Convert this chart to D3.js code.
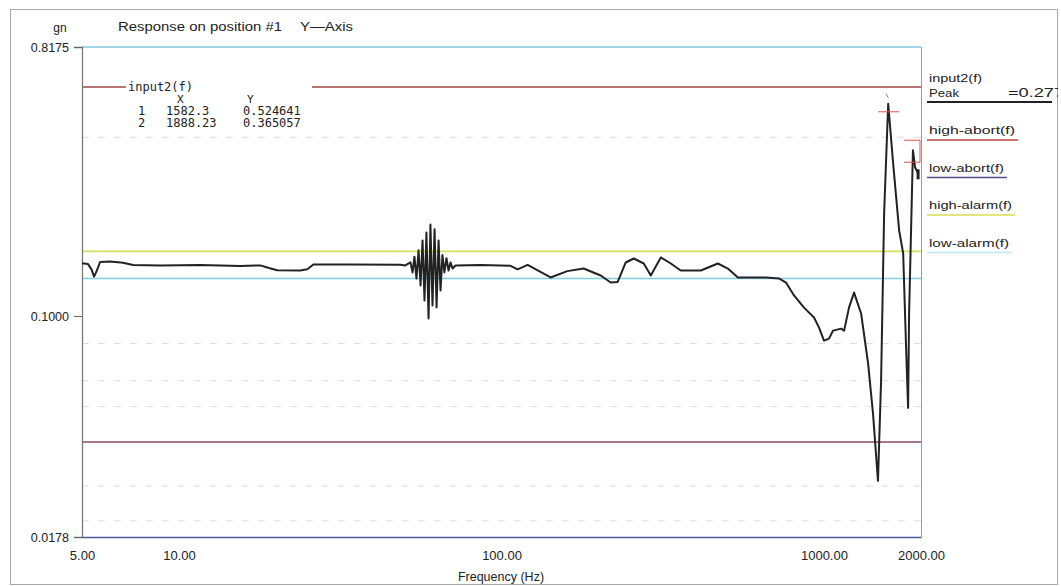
<!DOCTYPE html>
<html><head><meta charset="utf-8">
<script src="https://cdn.jsdelivr.net/npm/d3@7"></script>
<style>
html,body{margin:0;padding:0;background:#fff;}
svg{display:block;font-family:Arial,"Liberation Sans",sans-serif;}
</style></head>
<body><svg id="c" width="1061" height="586"></svg>
<script>
// ---- data ----
const freqs = [5.0,5.22,5.35,5.45,5.55,5.69,6.11,6.70,7.20,8.73,11.62,15.47,17.86,19.0,20.16,23.77,24.99,26.09,33.99,48.6,
  50.3,52.2,53.0,53.7,54.5,55.3,56.1,56.9,57.7,58.5,59.4,60.2,61.1,62.0,62.9,63.8,64.7,65.6,66.5,67.5,68.5,69.5,70.5,72.0,
  86.1,99.3,106.7,112.2,120.5,142.0,160,179.8,203.1,218.1,229.3,242.8,257.1,276.2,290.4,311.9,335.0,359.6,415.3,468.8,503.6,540.9,
  661.0,725.5,762.7,807.6,867.4,931.7,965.6,1000.4,1037,1067,1130,1155,1196,1240,1304,1371,1420,1471,1504,1537,1582.3,1639,1711,1761,1798,1824,1837,1888.23,1917,1959];
const values = [0.1510,0.1500,0.1440,0.1360,0.1420,0.1525,0.1530,0.1515,0.1490,0.1485,0.1490,0.1478,0.1485,0.1455,0.1430,0.1427,0.1440,0.1495,0.1495,0.1492,
  0.1484,0.1520,0.1405,0.1590,0.1340,0.1670,0.1270,0.1805,0.1128,0.1920,0.0980,0.2045,0.1085,0.1970,0.1070,0.1805,0.1220,0.1610,0.1405,0.1570,0.1427,0.1520,0.1449,0.1484,
  0.1490,0.1484,0.1480,0.1440,0.1490,0.1351,0.1420,0.1449,0.1372,0.1299,0.1305,0.1519,0.1567,0.1507,0.1372,0.1580,0.1507,0.1427,0.1427,0.1507,0.1449,0.1351,
  0.1351,0.1341,0.1299,0.1174,0.1068,0.0988,0.0913,0.0825,0.0838,0.0892,0.0906,0.0892,0.1068,0.1201,0.1020,0.0689,0.0466,0.0276,0.0603,0.2230,0.5246,0.3298,0.1952,0.1631,0.0781,0.0488,0.1020,0.3651,0.3196,0.3048];

const refNames  = ["high-abort(f)","low-abort(f)","high-alarm(f)","low-alarm(f)"];
const refValues = [0.598, 0.0374, 0.1657, 0.1340];
const refColors = ["#a04646","#8a4a5a","#d6e05a","#7fd0e0"];
const legendUnderline = ["#c04040","#5a4a8a","#d8dc50","#bfe8ee"];

const faintValues = [0.404, 0.0807, 0.0603, 0.0493, 0.0265, 0.0202];

const yTicks = [0.0178, 0.1, 0.8175];
const xTicks = [5, 10, 100, 1000, 2000];

const cursorX = [1582.3, 1888.23];
const cursorY = [0.524641, 0.365057];

// ---- scales ----
const svg = d3.select("#c");
const x = d3.scaleLog().domain([5, 2000]).range([82, 921]);
const y = d3.scaleLog().domain([0.0178, 0.8175]).range([537, 47]);

// outer frame
svg.append("rect").attr("x",10.5).attr("y",9.5).attr("width",1047).attr("height",575)
  .attr("fill","none").attr("stroke","#a8a8a8").attr("stroke-width",1);

// faint dashed lines
svg.append("g").selectAll("line").data(faintValues).join("line")
  .attr("x1",x(5)).attr("x2",x(2000)).attr("y1",d=>y(d)).attr("y2",d=>y(d))
  .attr("stroke","#dedede").attr("stroke-width",1).attr("stroke-dasharray","7,9");

// top line
svg.append("line").attr("x1",x(5)).attr("x2",x(2000)).attr("y1",y(0.8175)).attr("y2",y(0.8175))
  .attr("stroke","#86c8e2").attr("stroke-width",1.3);
// right border
svg.append("line").attr("x1",x(2000)+0.5).attr("x2",x(2000)+0.5).attr("y1",y(0.8175)).attr("y2",y(0.0178))
  .attr("stroke","#9a9a9a").attr("stroke-width",1);

// reference lines
svg.append("g").selectAll("line").data(refValues).join("line")
  .attr("x1",x(5)).attr("x2",x(2000)).attr("y1",d=>y(d)).attr("y2",d=>y(d))
  .attr("stroke",(d,i)=>refColors[i]).attr("stroke-width",1.6);

// axes
const yAxis = d3.axisLeft(y).tickValues(yTicks).tickFormat(d3.format(".4f")).tickSize(8).tickPadding(5);
const gy = svg.append("g").attr("transform",`translate(${x(5)},0)`).call(yAxis);
gy.select(".domain").attr("stroke","#7a7a7a").attr("stroke-width",1.3);
gy.selectAll(".tick line").attr("stroke","#666");
gy.selectAll("text").attr("font-size",12.5).attr("fill","#222").attr("font-family","Arial, 'Liberation Sans', sans-serif");

const xAxis = d3.axisBottom(x).tickValues(xTicks).tickFormat(d3.format(".2f")).tickSize(0).tickPadding(14);
const gx = svg.append("g").attr("transform",`translate(0,${y(0.0178)})`).call(xAxis);
gx.select(".domain").attr("stroke","#4a5a9a").attr("stroke-width",1.5);
gx.selectAll("text").attr("font-size",13).attr("fill","#222").attr("font-family","Arial, 'Liberation Sans', sans-serif");

// curve
const pts = freqs.map((f,i)=>[f, values[i]]);
svg.append("path").datum(pts)
  .attr("fill","none").attr("stroke","#222").attr("stroke-width",2).attr("stroke-linejoin","round")
  .attr("d", d3.line().x(d=>x(d[0])).y(d=>y(d[1])));
// end tick segment
svg.append("line").attr("x1",x(1959)).attr("x2",x(1959)).attr("y1",y(0.3048)-4).attr("y2",y(0.3048)+6)
  .attr("stroke","#222").attr("stroke-width",3);

// cursor markers
svg.append("line").attr("x1",x(cursorX[0])-10).attr("x2",x(cursorX[0])+11).attr("y1",y(cursorY[0])+8).attr("y2",y(cursorY[0])+8)
  .attr("stroke","#e05050").attr("stroke-width",1);
svg.append("line").attr("x1",x(cursorX[0])-2).attr("x2",x(cursorX[0])).attr("y1",y(cursorY[0])-10).attr("y2",y(cursorY[0])-6)
  .attr("stroke","#888").attr("stroke-width",1);
svg.append("path")
  .attr("d",`M${x(cursorX[1])-9},${y(cursorY[1])-10}H${x(2000)-1}V${y(cursorY[1])+12}H${x(cursorX[1])-9}`)
  .attr("fill","none").attr("stroke","#e05050").attr("stroke-width",1);

// cursor readout box (covers the abort line)
const box = svg.append("g");
box.append("rect").attr("x",126).attr("y",79).attr("width",186).attr("height",54).attr("fill","#fff");
const mono = "'DejaVu Sans Mono','Liberation Mono',monospace";
box.append("text").attr("x",128).attr("y",91).attr("font-family",mono).attr("font-size",12).attr("fill","#222").text("input2(f)");
box.append("text").attr("x",177).attr("y",103).attr("font-family",mono).attr("font-size",11).attr("fill","#222").text("X");
box.append("text").attr("x",247).attr("y",103).attr("font-family",mono).attr("font-size",11).attr("fill","#222").text("Y");
cursorX.forEach((cx,i)=>{
  const yy = 115 + i*12;
  box.append("text").attr("x",138).attr("y",yy).attr("font-family",mono).attr("font-size",12).attr("fill","#222").text(i+1);
  box.append("text").attr("x",166).attr("y",yy).attr("font-family",mono).attr("font-size",12).attr("fill","#222").text(d3.format("")(cx));
  box.append("text").attr("x",243).attr("y",yy).attr("font-family",mono).attr("font-size",12).attr("fill","#222").text(d3.format(".6f")(cursorY[i]));
});

// header texts
svg.append("text").attr("x",60).attr("y",32).attr("text-anchor","middle").attr("font-size",12).attr("fill","#222").text("gn");
svg.append("text").attr("x",118).attr("y",31).attr("font-size",12).attr("fill","#222")
  .attr("textLength",164).attr("lengthAdjust","spacingAndGlyphs").text("Response on position #1");
svg.append("text").attr("x",300).attr("y",31).attr("font-size",12).attr("fill","#222")
  .attr("textLength",53).attr("lengthAdjust","spacingAndGlyphs").text("Y\u2014Axis");
svg.append("text").attr("x",501).attr("y",581).attr("text-anchor","middle").attr("font-size",12.5).attr("fill","#222").text("Frequency (Hz)");

// right legend
const lg = svg.append("g");
lg.append("text").attr("x",929).attr("y",82).attr("font-size",11.5).attr("fill","#222")
  .attr("textLength",53).attr("lengthAdjust","spacingAndGlyphs").text("input2(f)");
lg.append("text").attr("x",929).attr("y",97).attr("font-size",11.5).attr("fill","#222")
  .attr("textLength",30).attr("lengthAdjust","spacingAndGlyphs").text("Peak");
lg.append("text").attr("x",1008).attr("y",97).attr("font-size",13).attr("fill","#222")
  .attr("textLength",56).attr("lengthAdjust","spacingAndGlyphs").text("=0.277");
lg.append("line").attr("x1",927).attr("x2",1052).attr("y1",102).attr("y2",102).attr("stroke","#222").attr("stroke-width",2.2);
const lens = [86,75,83,80];
refNames.forEach((n,i)=>{
  const ty = 134 + i*37.5;
  lg.append("text").attr("x",929).attr("y",ty).attr("font-size",11.5).attr("fill","#222")
    .attr("textLength",lens[i]).attr("lengthAdjust","spacingAndGlyphs").text(n);
  lg.append("line").attr("x1",927).attr("x2",927+lens[i]+5).attr("y1",ty+6).attr("y2",ty+6)
    .attr("stroke",legendUnderline[i]).attr("stroke-width",1.3);
});
// clip peak text at frame
svg.append("rect").attr("x",1058).attr("y",0).attr("width",3).attr("height",586).attr("fill","#fff");
</script></body></html>
